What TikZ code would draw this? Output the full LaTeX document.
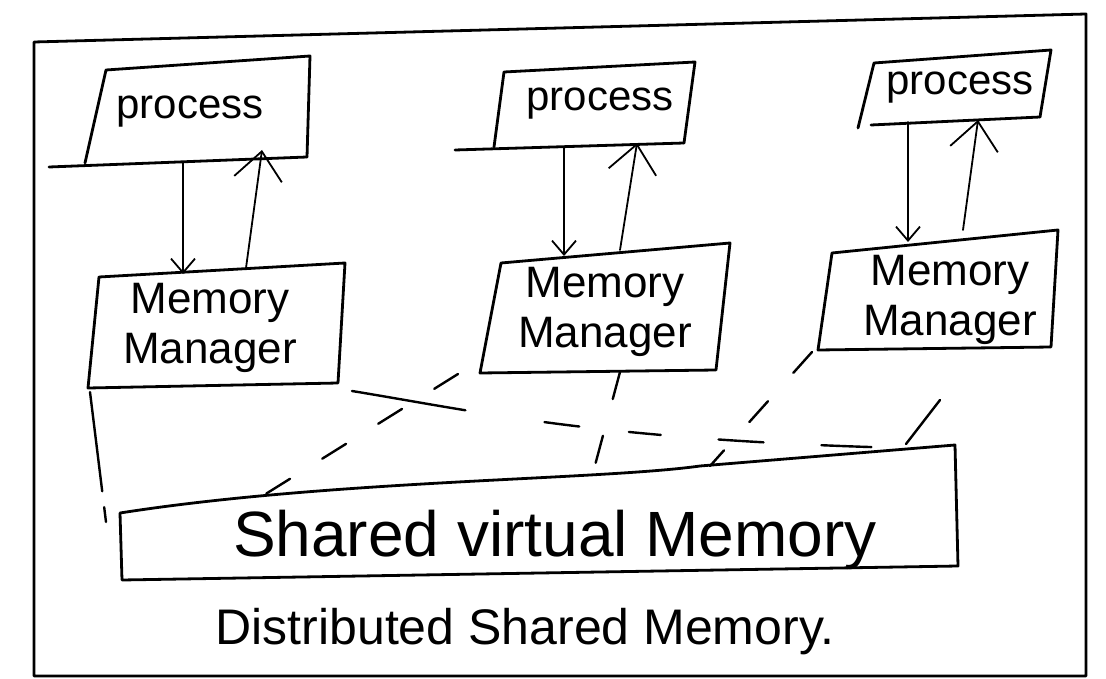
\documentclass[tikz,border=0pt]{standalone}
\usepackage{fontspec}
\setmainfont{Liberation Sans}
\usetikzlibrary{arrows.meta}
\begin{document}
\begin{tikzpicture}[x=1pt,y=-1pt,
  ink/.style={line width=2.8pt,line join=round,line cap=round},
  thin ink/.style={line width=1.8pt,line cap=round},
  dsh/.style={line width=2.4pt,line cap=round,dash pattern=on 28pt off 38pt},
  upa/.style={thin ink,-{Straight Barb[length=28pt,width=48pt,line width=1.8pt]}},
  downa/.style={thin ink,-{Straight Barb[length=14pt,width=24pt,line width=1.8pt]}},
  lbl/.style={inner sep=0pt,font=\fontsize{42}{46}\selectfont},
  mlbl/.style={inner sep=0pt,font=\fontsize{44}{50}\selectfont}]
\useasboundingbox (0,0) rectangle (1106,679);
\fill[white] (0,0) rectangle (1106,679);
% outer frame
\coordinate (F1) at (34,42); \coordinate (F2) at (1086,14);
\coordinate (F3) at (1086,676); \coordinate (F4) at (34,676);
\draw[ink] (F1) -- (F2) -- (F3) -- (F4) -- cycle;
% process boxes
\coordinate (p1a) at (106,70); \coordinate (p1b) at (310,56);
\coordinate (p1c) at (307,157); \coordinate (p1d) at (85,163); \coordinate (p1e) at (49,167);
\draw[ink] (p1d) -- (p1a) -- (p1b) -- (p1c); \draw[ink] (p1e) -- (p1c);
\node[lbl] (P1) at (190,112) {process};
\coordinate (p2a) at (504,72); \coordinate (p2b) at (695,62);
\coordinate (p2c) at (684,143); \coordinate (p2d) at (494,147); \coordinate (p2e) at (455,150);
\draw[ink] (p2d) -- (p2a) -- (p2b) -- (p2c); \draw[ink] (p2e) -- (p2c);
\node[lbl] (P2) at (600,104) {process};
\coordinate (p3a) at (874,63); \coordinate (p3b) at (1051,50);
\coordinate (p3c) at (1040,117); \coordinate (p3d) at (858,128); \coordinate (p3e) at (871,125);
\draw[ink] (p3d) -- (p3a) -- (p3b) -- (p3c); \draw[ink] (p3e) -- (p3c);
\node[lbl] (P3) at (960,88) {process};
% memory managers
\coordinate (m1a) at (99,277); \coordinate (m1b) at (345,263);
\coordinate (m1c) at (338,383); \coordinate (m1d) at (88,388);
\draw[ink] (m1a) -- (m1b) -- (m1c) -- (m1d) -- cycle;
\node[mlbl,align=center] (M1) at (210,328) {Memory\\Manager};
\coordinate (m2a) at (501,263); \coordinate (m2b) at (730,243);
\coordinate (m2c) at (716,370); \coordinate (m2d) at (480,373);
\draw[ink] (m2a) -- (m2b) -- (m2c) -- (m2d) -- cycle;
\node[mlbl,align=center] (M2) at (605,312) {Memory\\Manager};
\coordinate (m3a) at (832,253); \coordinate (m3b) at (1058,230);
\coordinate (m3c) at (1051,347); \coordinate (m3d) at (818,350);
\draw[ink] (m3a) -- (m3b) -- (m3c) -- (m3d) -- cycle;
\node[mlbl,align=center] (M3) at (950,300) {Memory\\Manager};
% arrows
\coordinate (a1s) at (183,163); \coordinate (a1e) at (183,274);
\coordinate (b1s) at (246,268); \coordinate (b1e) at (262,150);
\draw[downa] (a1s) -- (a1e); \draw[upa] (b1s) -- (b1e);
\coordinate (a2s) at (564,148); \coordinate (a2e) at (564,256);
\coordinate (b2s) at (620,250); \coordinate (b2e) at (637,143);
\draw[downa] (a2s) -- (a2e); \draw[upa] (b2s) -- (b2e);
\coordinate (a3s) at (908,122); \coordinate (a3e) at (908,242);
\coordinate (b3s) at (963,230); \coordinate (b3e) at (978,120);
\draw[downa] (a3s) -- (a3e); \draw[upa] (b3s) -- (b3e);
% shared virtual memory
\coordinate (s1) at (120,513); \coordinate (s2) at (955,445);
\coordinate (s3) at (958,566); \coordinate (s4) at (122,580);
\draw[ink] (s4) -- (s1) .. controls (330,480) and (600,480) .. (700,466)
  -- (s2) -- (s3) -- (s4);
\node[inner sep=0pt,font=\fontsize{64}{70}\selectfont] (SVM) at (555,540) {Shared virtual Memory};
\node[inner sep=0pt,font=\fontsize{50}{56}\selectfont] (DSM) at (525,632) {Distributed Shared Memory.};
% dashed connections
\coordinate (d1e) at (106,522);
\draw[dsh,dash pattern=on 100pt off 16pt on 30pt] (m1d) ++(2,4) -- (d1e);
\coordinate (d2e) at (903,448);
\draw[dsh,dash pattern=on 115pt off 80pt on 35pt off 50pt on 32pt off 58pt on 45pt off 58pt on 50pt]
  (m1c) ++(14,8) .. controls (480,412) and (600,440) .. (d2e);
\coordinate (d3s) at (458,374); \coordinate (d3e) at (240,510);
\draw[dsh] (d3s) -- (d3e);
\coordinate (d4s) at (620,372); \coordinate (d4e) at (590,484);
\draw[dsh] (d4s) -- (d4e);
\coordinate (d5s) at (812,352); \coordinate (d5e) at (710,466);
\draw[dsh] (d5s) -- (d5e);
\coordinate (d6s) at (940,400); \coordinate (d6e) at (906,444);
\draw[line width=2.4pt,line cap=round] (d6s) -- (d6e);
\end{tikzpicture}
\end{document}
